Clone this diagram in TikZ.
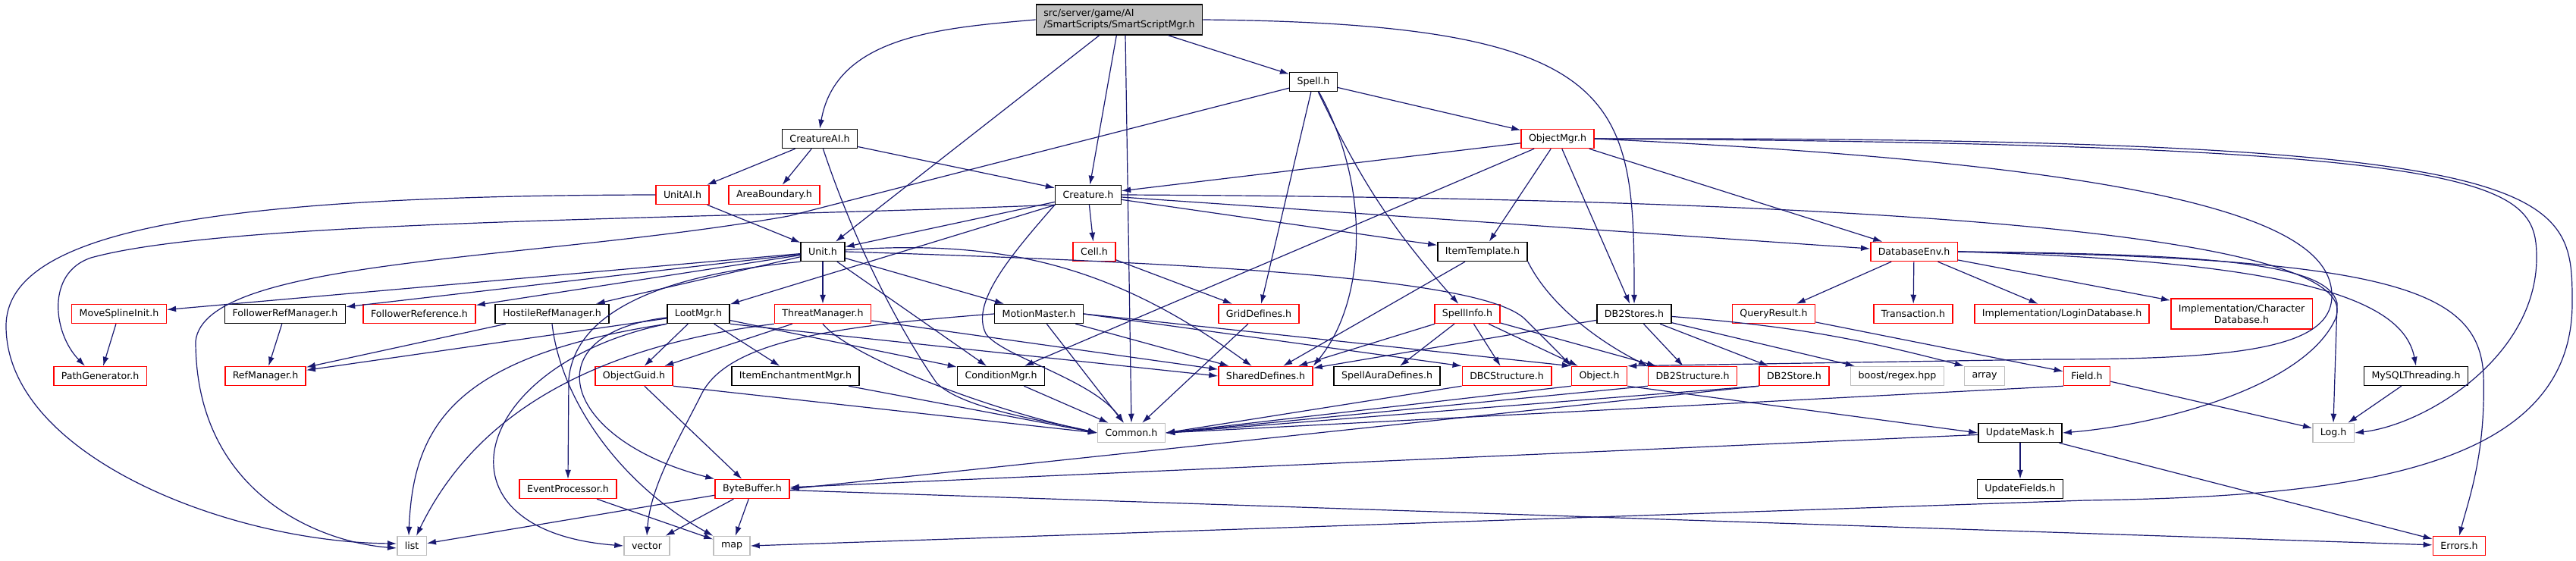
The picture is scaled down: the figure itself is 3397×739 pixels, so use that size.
\documentclass[tikz,border=0pt]{standalone}
\usepackage{fontspec}
\setmainfont{DejaVu Sans}
\usetikzlibrary{arrows.meta}
\definecolor{edgeblue}{HTML}{191970}
\definecolor{boxgrey}{HTML}{BFBFBF}
\definecolor{boxred}{HTML}{FF0000}
\begin{document}
\begin{tikzpicture}[x=1pt,y=-1pt,>={Latex[length=12pt,width=8pt]},
  font=\fontsize{12.6}{15}\selectfont,
  every node/.style={rectangle,fill=white,line width=1.5pt,minimum height=25pt,inner xsep=10pt,inner ysep=2pt},
  filebox/.style={draw=black},
  redbox/.style={draw=boxred},
  extbox/.style={draw=boxgrey},
  dep/.style={->,edgeblue,line width=1.2pt}]
\useasboundingbox (0,0) rectangle (3397,739);
        \node[filebox,fill=boxgrey,align=left,minimum height=40pt] (ssm) at (1476,26) {src/server/game/AI\\/SmartScripts/SmartScriptMgr.h};
        \node[filebox] (spell) at (1732,108) {Spell.h};
        \node[filebox] (creatureai) at (1081,183) {CreatureAI.h};
        \node[redbox] (objectmgr) at (2054,183) {ObjectMgr.h};
        \node[redbox] (unitai) at (900,257) {UnitAI.h};
        \node[redbox] (areaboundary) at (1021,257) {AreaBoundary.h};
        \node[filebox] (creature) at (1435,257) {Creature.h};
        \node[filebox] (unit) at (1085,332) {Unit.h};
        \node[redbox] (cell) at (1443,332) {Cell.h};
        \node[filebox] (itemtemplate) at (1955,332) {ItemTemplate.h};
        \node[redbox] (databaseenv) at (2524,332) {DatabaseEnv.h};
        \node[redbox] (movespline) at (157,414) {MoveSplineInit.h};
        \node[filebox] (followerrefmgr) at (376,414) {FollowerRefManager.h};
        \node[redbox] (followerref) at (553,414) {FollowerReference.h};
        \node[filebox] (hostilerefmgr) at (728,414) {HostileRefManager.h};
        \node[filebox] (lootmgr) at (921,414) {LootMgr.h};
        \node[redbox] (threatmgr) at (1085,414) {ThreatManager.h};
        \node[filebox] (motionmaster) at (1370,414) {MotionMaster.h};
        \node[redbox] (griddefines) at (1660,414) {GridDefines.h};
        \node[redbox] (spellinfo) at (1935,414) {SpellInfo.h};
        \node[filebox] (db2stores) at (2155,414) {DB2Stores.h};
        \node[redbox] (queryresult) at (2339,414) {QueryResult.h};
        \node[redbox] (transaction) at (2523,414) {Transaction.h};
        \node[redbox] (logindb) at (2719,414) {Implementation/LoginDatabase.h};
        \node[redbox,align=center,minimum height=40pt] (chardb) at (2956,414) {Implementation/Character\\Database.h};
        \node[redbox] (pathgen) at (132,496) {PathGenerator.h};
        \node[redbox] (refmgr) at (350,496) {RefManager.h};
        \node[redbox] (objectguid) at (836,496) {ObjectGuid.h};
        \node[filebox] (itemench) at (1049,496) {ItemEnchantmentMgr.h};
        \node[filebox] (conditionmgr) at (1320,496) {ConditionMgr.h};
        \node[redbox] (shareddefs) at (1669,496) {SharedDefines.h};
        \node[filebox] (spellauradefs) at (1829,496) {SpellAuraDefines.h};
        \node[redbox] (dbcstructure) at (1987,496) {DBCStructure.h};
        \node[redbox] (object) at (2109,496) {Object.h};
        \node[redbox] (db2structure) at (2232,496) {DB2Structure.h};
        \node[redbox] (db2store) at (2366,496) {DB2Store.h};
        \node[extbox] (boostregex) at (2502,496) {boost/regex.hpp};
        \node[extbox] (array) at (2617,496) {array};
        \node[redbox] (field) at (2752,496) {Field.h};
        \node[filebox] (mysqlthreading) at (3186,496) {MySQLThreading.h};
        \node[extbox] (common) at (1492,571) {Common.h};
        \node[filebox] (updatemask) at (2664,571) {UpdateMask.h};
        \node[extbox] (logh) at (3077,571) {Log.h};
        \node[redbox] (eventproc) at (749,645) {EventProcessor.h};
        \node[redbox] (bytebuffer) at (992,645) {ByteBuffer.h};
        \node[filebox] (updatefields) at (2664,645) {UpdateFields.h};
        \node[extbox] (list) at (543,720) {list};
        \node[extbox] (vector) at (853,720) {vector};
        \node[extbox] (map) at (965,720) {map};
        \node[redbox] (errors) at (3243,720) {Errors.h};

        \draw[dep] (ssm.west) to[out=185,in=80] (creatureai.north);
        \draw[dep] (ssm) to (unit);
        \draw[dep] (ssm) to (creature);
        \draw[dep] ([xshift=8pt]ssm.south) to (common.north);
        \draw[dep] (ssm) to (spell);
        \draw[dep] (ssm.east) .. controls +(560,5) and +(0,-270) .. (db2stores.north);

        \draw[dep] (creatureai) to (unitai);
        \draw[dep] (creatureai) to (areaboundary);
        \draw[dep] (creatureai) to (creature);
        \draw[dep] (creatureai) .. controls (1130,330) and (1190,440) .. (1235,505) .. controls (1270,540) and (1380,555) .. (common.west);

        \draw[dep] (unitai) to (unit);
        \draw[dep] (unitai.west) .. controls (300,258) and (8,300) .. (8,430) .. controls (8,600) and (300,715) .. ([yshift=3pt]list.west);

        \draw[dep] (spell) to (griddefines);
        \draw[dep] (spell) .. controls (1810,250) and (1800,400) .. (shareddefs.north east);
        \draw[dep] (spell) to[bend right=8] (spellinfo);
        \draw[dep] (spell) to (objectmgr);
        \draw[dep] (spell) to (1040,285) .. controls (700,345) and (270,340) .. (258,450) .. controls (258,650) and (420,715) .. ([yshift=-3pt]list.west);

        \draw[dep] (objectmgr) to (creature);
        \draw[dep] (objectmgr) to (itemtemplate);
        \draw[dep] (objectmgr) to (db2stores);
        \draw[dep] (objectmgr) to (databaseenv);
        \draw[dep] (objectmgr) to (conditionmgr);
        \draw[dep] (objectmgr.east) .. controls (3300,190) and (3345,240) .. (3345,340) .. controls (3345,470) and (3200,560) .. (logh.east);
        \draw[dep] (objectmgr.east) .. controls (3390,180) and (3392,250) .. (3392,400) .. controls (3392,620) and (3100,655) .. (2750,660) to (map.east);
        \draw[dep] (objectmgr.east) .. controls (2900,220) and (3075,300) .. (3075,390) .. controls (3075,460) and (2950,474) .. (2700,474) to (object.north east);

        \draw[dep] (creature) to (unit);
        \draw[dep] (creature) to (lootmgr);
        \draw[dep] (creature.south west) .. controls (1330,340) and (1280,400) .. (1300,440) .. controls (1320,470) and (1440,500) .. ([xshift=-10pt]common.north);
        \draw[dep] (creature) to (cell);
        \draw[dep] (creature) to (itemtemplate);
        \draw[dep] (creature) to (databaseenv);
        \draw[dep] (creature.south west) .. controls (900,290) and (300,290) .. (120,340) .. controls (60,360) and (70,440) .. ([xshift=-20pt]pathgen.north);
        \draw[dep] (creature.east) .. controls (2600,262) and (3120,320) .. (3080,420) .. controls (3040,510) and (2850,560) .. (updatemask.east);

        \draw[dep] (unit) to (movespline);
        \draw[dep] (unit) to (followerrefmgr);
        \draw[dep] (unit) to (followerref);
        \draw[dep] (unit) to (hostilerefmgr);
        \draw[dep] (unit) to (threatmgr);
        \draw[dep] (unit) to (motionmaster);
        \draw[dep] (unit) to[bend left=20] (shareddefs);
        \draw[dep] (unit.east) .. controls (1700,350) and (1960,375) .. (2010,420) .. controls (2040,450) and (2060,470) .. (object.north west);
        \draw[dep] (unit) to (conditionmgr);
        \draw[dep] (unit.south west) .. controls (900,360) and (760,400) .. (750,500) to (eventproc.north);

        \draw[dep] (movespline) to (pathgen);
        \draw[dep] (followerrefmgr) to (refmgr);
        \draw[dep] (hostilerefmgr) to (refmgr);
        \draw[dep] (hostilerefmgr.south) .. controls (740,530) and (820,640) .. (map.north west);

        \draw[dep] (lootmgr) to (refmgr);
        \draw[dep] (lootmgr.south west) .. controls (600,470) and (545,560) .. ([xshift=-4pt]list.north);
        \draw[dep] (lootmgr.south west) .. controls (620,480) and (560,700) .. (vector.west);
        \draw[dep] (lootmgr) to (objectguid);
        \draw[dep] (lootmgr) to (itemench);
        \draw[dep] (lootmgr) .. controls (700,440) and (740,580) .. (bytebuffer.north west);
        \draw[dep] (lootmgr) to (conditionmgr);
        \draw[dep] (lootmgr.south east) to (shareddefs.west);

        \draw[dep] (threatmgr.south west) .. controls (760,460) and (620,560) .. ([xshift=6pt]list.north);
        \draw[dep] (threatmgr) to (objectguid);
        \draw[dep] (threatmgr) to (shareddefs);
        \draw[dep] (threatmgr.south) .. controls (1120,470) and (1300,540) .. (common.west);

        \draw[dep] (motionmaster) to (common);
        \draw[dep] (motionmaster) to (shareddefs);
        \draw[dep] (motionmaster.east) to (dbcstructure.north west);
        \draw[dep] (motionmaster.east) to (object.north west);
        \draw[dep] (motionmaster.west) .. controls (1100,430) and (960,450) .. (925,520) .. controls (895,580) and (858,640) .. (vector.north);

        \draw[dep] (cell) to (griddefines);
        \draw[dep] (griddefines) to (common);
        \draw[dep] (itemtemplate) to (shareddefs);
        \draw[dep] (itemtemplate.south east) .. controls +(30,60) and +(-60,-30) .. (db2structure.north west);

        \draw[dep] (spellinfo) to (shareddefs);
        \draw[dep] (spellinfo) to (spellauradefs);
        \draw[dep] (spellinfo) to (dbcstructure);
        \draw[dep] (spellinfo) to (object);
        \draw[dep] (spellinfo) to (db2structure);

        \draw[dep] (db2stores) to (shareddefs);
        \draw[dep] (db2stores) to (db2structure);
        \draw[dep] (db2stores) to (db2store);
        \draw[dep] (db2stores) to (boostregex);
        \draw[dep] (db2stores) to[bend left=5] (array.north west);

        \draw[dep] (databaseenv) to (queryresult);
        \draw[dep] (databaseenv) to (transaction);
        \draw[dep] (databaseenv) to (logindb);
        \draw[dep] (databaseenv) to (chardb);
        \draw[dep] (databaseenv.east) .. controls (3050,345) and (3170,400) .. (mysqlthreading.north);
        \draw[dep] (databaseenv.east) .. controls (2900,335) and (3070,345) .. (3082,400) to (logh.north);
        \draw[dep] (databaseenv.east) .. controls (3150,340) and (3270,380) .. (3275,496) .. controls (3278,600) and (3255,660) .. (errors.north);

        \draw[dep] (queryresult) to (field);
        \draw[dep] (mysqlthreading) to (logh);
        \draw[dep] (field) to (logh);
        \draw[dep] (field.south west) to (common.east);

        \draw[dep] (objectguid) to (bytebuffer);
        \draw[dep] (objectguid.south east) to (common.west);
        \draw[dep] (itemench) to (common.west);
        \draw[dep] (conditionmgr) to (common);
        \draw[dep] (dbcstructure.south west) to (common.east);
        \draw[dep] (object.south west) to (common.east);
        \draw[dep] (object.south east) to (updatemask.west);
        \draw[dep] (db2structure.south west) to (common.east);
        \draw[dep] (db2store.south west) to (common.east);
        \draw[dep] (db2store.south west) to (bytebuffer.east);

        \draw[dep] (updatemask) to (updatefields);
        \draw[dep] (updatemask) to (errors);
        \draw[dep] (updatemask) to (bytebuffer);

        \draw[dep] (eventproc) to (map);
        \draw[dep] (bytebuffer) to (list);
        \draw[dep] (bytebuffer) to (vector);
        \draw[dep] (bytebuffer) to (map);
        \draw[dep] (bytebuffer) to (errors);
      \end{tikzpicture}
\end{document}
